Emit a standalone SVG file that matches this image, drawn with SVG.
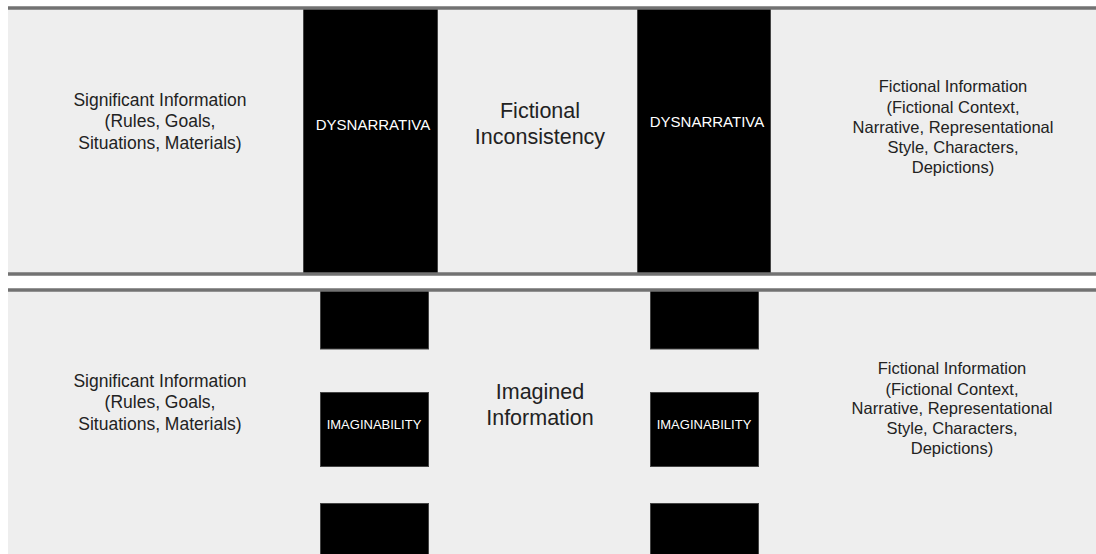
<svg xmlns="http://www.w3.org/2000/svg" width="1096" height="554" viewBox="0 0 1096 554">
<style>
.panel{fill:#eeeeee}
.rule{stroke:#727272;stroke-width:3.5}
.bar{fill:#000000;stroke:#444;stroke-width:1}
.t{font-family:"Liberation Sans",Arial,sans-serif;fill:#222;text-anchor:middle}
.w{font-family:"Liberation Sans",Arial,sans-serif;fill:#ffffff;text-anchor:middle}
</style>
<rect width="1096" height="554" fill="#ffffff"/>
<g id="top-panel">
<rect class="panel" x="8" y="8" width="1088" height="266"/>
</g>
<g id="bottom-panel">
<rect class="panel" x="8" y="290" width="1088" height="264"/>
</g>
<g id="top-significant">
<text class="t" font-size="17.5"><tspan x="160" y="106">Significant Information</tspan><tspan x="160" y="127">(Rules, Goals,</tspan><tspan x="160" y="149">Situations, Materials)</tspan></text>
</g>
<g id="top-dysnarrativa-left">
<rect class="bar" x="303.5" y="8" width="134" height="266"/>
<text class="w" font-size="15" x="373" y="130">DYSNARRATIVA</text>
</g>
<g id="top-fictional-inconsistency">
<text class="t" font-size="21.5"><tspan x="540" y="118">Fictional</tspan><tspan x="540" y="144">Inconsistency</tspan></text>
</g>
<g id="top-dysnarrativa-right">
<rect class="bar" x="637.5" y="8" width="133" height="266"/>
<text class="w" font-size="15" x="707" y="127">DYSNARRATIVA</text>
</g>
<g id="top-fictional-information">
<text class="t" font-size="16.5"><tspan x="953" y="92">Fictional Information</tspan><tspan x="953" y="113">(Fictional Context,</tspan><tspan x="953" y="133">Narrative, Representational</tspan><tspan x="953" y="153">Style, Characters,</tspan><tspan x="953" y="173">Depictions)</tspan></text>
</g>
<g id="bottom-significant">
<text class="t" font-size="17.5"><tspan x="160" y="387">Significant Information</tspan><tspan x="160" y="408">(Rules, Goals,</tspan><tspan x="160" y="430">Situations, Materials)</tspan></text>
</g>
<g id="bottom-imaginability-left">
<rect class="bar" x="320.5" y="290" width="108" height="59"/>
<rect class="bar" x="320.5" y="392.5" width="108" height="74"/>
<rect class="bar" x="320.5" y="503.5" width="108" height="52"/>
<text class="w" font-size="13" x="374" y="429">IMAGINABILITY</text>
</g>
<g id="bottom-imagined-information">
<text class="t" font-size="21.5"><tspan x="540" y="399">Imagined</tspan><tspan x="540" y="425">Information</tspan></text>
</g>
<g id="bottom-imaginability-right">
<rect class="bar" x="650.5" y="290" width="108" height="59"/>
<rect class="bar" x="650.5" y="392.5" width="108" height="74"/>
<rect class="bar" x="650.5" y="503.5" width="108" height="52"/>
<text class="w" font-size="13" x="704" y="429">IMAGINABILITY</text>
</g>
<g id="bottom-fictional-information">
<text class="t" font-size="16.5"><tspan x="952" y="374">Fictional Information</tspan><tspan x="952" y="395">(Fictional Context,</tspan><tspan x="952" y="414">Narrative, Representational</tspan><tspan x="952" y="434">Style, Characters,</tspan><tspan x="952" y="454">Depictions)</tspan></text>
</g>
<g id="connectors">
<line class="rule" x1="8" y1="8" x2="1096" y2="8"/>
<line class="rule" x1="8" y1="274" x2="1096" y2="274"/>
<line class="rule" x1="8" y1="290" x2="1096" y2="290"/>
</g>
</svg>
